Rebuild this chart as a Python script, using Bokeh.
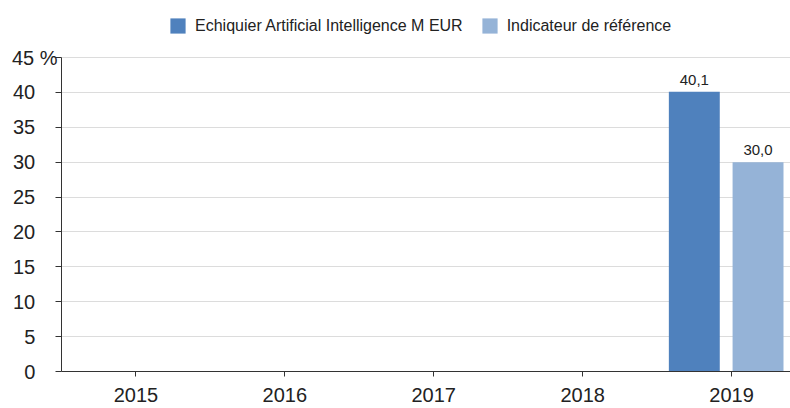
from bokeh.plotting import figure
from bokeh.models import ColumnDataSource, FixedTicker, Range1d, Legend, LegendItem, LabelSet
from bokeh.core.properties import value
from bokeh.transform import dodge
from bokeh.embed import file_html
from bokeh.resources import INLINE

years = ["2015", "2016", "2017", "2018", "2019"]
fund = [None, None, None, None, 40.1]
bench = [None, None, None, None, 30.0]
fund_name = "Echiquier Artificial Intelligence M EUR"
bench_name = "Indicateur de référence"
y_ticks = [0, 5, 10, 15, 20, 25, 30, 35, 40, 45]
y_unit = "%"

idx = list(range(len(years)))
fund_v = [v if v is not None else float("nan") for v in fund]
bench_v = [v if v is not None else float("nan") for v in bench]
fund_lbl = [("%.1f" % v).replace(".", ",") if v is not None else "" for v in fund]
bench_lbl = [("%.1f" % v).replace(".", ",") if v is not None else "" for v in bench]

src = ColumnDataSource(dict(x=idx, fund=fund_v, bench=bench_v, fl=fund_lbl, bl=bench_lbl))

FONT = "Liberation Sans"
# extra headroom above the top tick holds the legend
p = figure(width=790, height=408, output_backend="svg", toolbar_location=None,
           x_range=Range1d(-0.5, 4.396), y_range=Range1d(0, 53.17),
           min_border_left=61, min_border_right=0, min_border_top=0, min_border_bottom=37)
p.outline_line_color = None
p.background_fill_color = "white"

r1 = p.vbar(x=dodge("x", -0.25, range=p.x_range), top="fund", width=0.342, source=src,
            fill_color="#4F81BD", line_color=None)
r2 = p.vbar(x=dodge("x", 0.178, range=p.x_range), top="bench", width=0.342, source=src,
            fill_color="#95B3D7", line_color=None)

for xo, col in ((-0.25, "fund"), (0.178, "bench")):
    p.add_layout(LabelSet(x=dodge("x", xo, range=p.x_range), y=col,
                          text="fl" if col == "fund" else "bl", source=src,
                          y_offset=7, text_align="center", text_baseline="bottom",
                          text_font_size=value("15px"), text_font=value(FONT),
                          text_color="#222222"))

# axes
p.xaxis.ticker = FixedTicker(ticks=idx)
p.xaxis.major_label_overrides = {i: y for i, y in zip(idx, years)}
p.xaxis.minor_tick_line_color = None
p.xaxis.major_tick_in = 0
p.xaxis.major_tick_out = 5
p.xaxis.axis_line_color = "#333333"
p.xaxis.major_tick_line_color = "#333333"
p.xaxis.major_label_text_font = FONT
p.xaxis.major_label_text_font_size = "20px"
p.xaxis.major_label_text_color = "#222222"
p.xaxis.major_label_standoff = 11

pad = "\u2007\u2007"
p.yaxis.ticker = FixedTicker(ticks=y_ticks)
p.yaxis.bounds = (y_ticks[0], y_ticks[-1])
p.yaxis.major_label_overrides = {t: (f"{t} {y_unit}" if t == y_ticks[-1] else f"{t}{pad}") for t in y_ticks}
p.yaxis.minor_tick_line_color = None
p.yaxis.major_tick_in = 0
p.yaxis.major_tick_out = 6
p.yaxis.axis_line_color = "#333333"
p.yaxis.major_tick_line_color = "#333333"
p.yaxis.major_label_text_font = FONT
p.yaxis.major_label_text_font_size = "20px"
p.yaxis.major_label_text_color = "#222222"
p.yaxis.major_label_standoff = -2

p.xgrid.grid_line_color = None
p.ygrid.ticker = FixedTicker(ticks=y_ticks)
p.ygrid.grid_line_color = "#dcdcdc"
p.ygrid.grid_line_width = 1

legend = Legend(items=[LegendItem(label=fund_name, renderers=[r1]),
                       LegendItem(label=bench_name, renderers=[r2])],
                orientation="horizontal", location=(107, 336),
                label_text_font=FONT, label_text_font_size="16px", label_text_color="#222222",
                label_height=19, glyph_width=19, glyph_height=19, spacing=17, label_standoff=8,
                border_line_color=None, background_fill_alpha=0, padding=0, margin=0)
p.add_layout(legend)

open("out.html", "w").write(file_html(p, INLINE))
